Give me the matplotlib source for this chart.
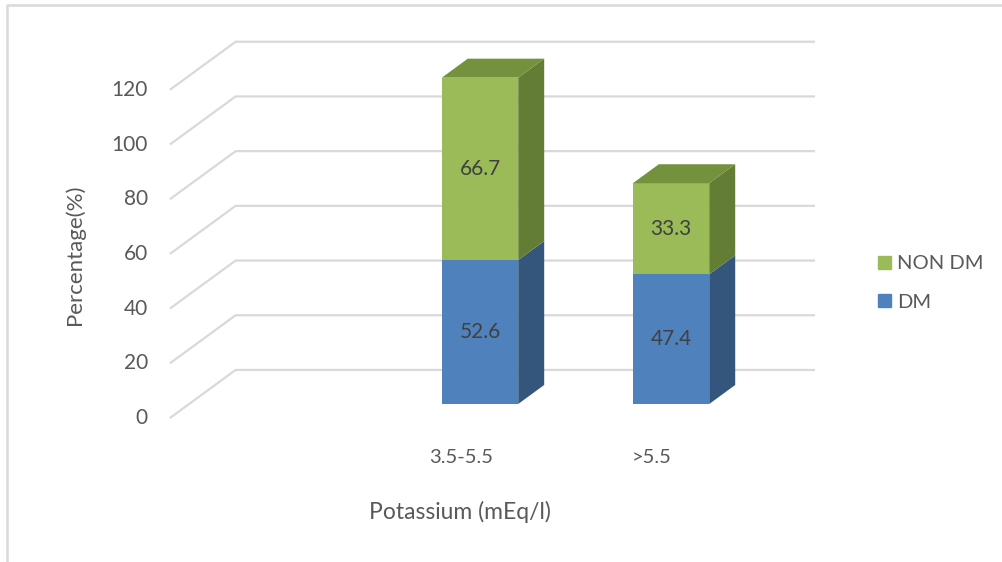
import matplotlib
matplotlib.use('Agg')
import matplotlib.pyplot as plt
from matplotlib.patches import Polygon, Patch
from matplotlib.lines import Line2D

plt.rcParams['font.family'] = ['Lato', 'DejaVu Sans']

categories = ['3.5-5.5', '>5.5']
dm = [52.6, 47.4]
non_dm = [66.7, 33.3]
y_ticks = [0, 20, 40, 60, 80, 100, 120]

blue, blue_side, blue_top = '#4f81bd', '#34557c', '#3e6594'
green, green_side, green_top = '#9bbb59', '#637d35', '#74913d'
grid_col = '#d9d9d9'
text_col = '#595959'

# depth vector of one bar (x in category units, y in data units)
ddx, ddy = 0.136, 6.95
floor_front = -0.74   # front edge of the floor, in bar depths
back_wall = 1.79      # back wall, in bar depths
grid_left = -1.523
grid_right = 1.754
width = 0.4

fig = plt.figure(figsize=(10.03, 5.62), dpi=100)
ax = fig.add_axes([0, 0, 1, 1])
ax.set_xlim(-2.513, 2.738)
ax.set_ylim(-57.77, 147.7)
ax.axis('off')

# perspective gridlines: diagonal on the side wall, horizontal on the back wall
for v in y_ticks:
    xs = [grid_left + floor_front * ddx, grid_left + back_wall * ddx, grid_right]
    ys = [v + floor_front * ddy, v + back_wall * ddy, v + back_wall * ddy]
    ax.plot(xs, ys, color=grid_col, lw=1.6, zorder=1, solid_capstyle='butt')
    ax.text(xs[0] - 0.115, ys[0], str(v), ha='right', va='center',
            fontsize=15, color=text_col)

x = list(range(len(categories)))
bottoms = [0] * len(x)
for vals, front, side, top in [(dm, blue, blue_side, blue_top),
                               (non_dm, green, green_side, green_top)]:
    ax.bar(x, vals, width=width, bottom=bottoms, color=front, zorder=3)
    for i in x:
        b = bottoms[i]
        t = b + vals[i]
        r = i + width / 2
        ax.add_patch(Polygon([(r, b), (r + ddx, b + ddy), (r + ddx, t + ddy), (r, t)],
                             closed=True, facecolor=side, edgecolor='none', zorder=3))
        ax.text(i, b + vals[i] / 2, f'{vals[i]:.1f}', ha='center', va='center',
                fontsize=15, color='#404040', zorder=5)
    bottoms = [bottoms[i] + vals[i] for i in x]

# top faces
for i in x:
    t = bottoms[i]
    l, r = i - width / 2, i + width / 2
    ax.add_patch(Polygon([(l, t), (r, t), (r + ddx, t + ddy), (l + ddx, t + ddy)],
                         closed=True, facecolor=green_top, edgecolor='none', zorder=4))

for i, lab in enumerate(categories):
    ax.text(i + floor_front * ddx, -19.4, lab, ha='center', va='center',
            fontsize=14.5, color=text_col)

fig.text(460 / 1003, 1 - 512 / 562, 'Potassium (mEq/l)', ha='center', va='center',
         fontsize=16.5, color=text_col)
fig.text(75 / 1003, 1 - 255 / 562, 'Percentage(%)', ha='center', va='center',
         rotation=90, fontsize=16, color=text_col)

handles = [Patch(color=green, label='NON DM'), Patch(color=blue, label='DM')]
leg = ax.legend(handles=handles, loc='center left',
                bbox_to_anchor=(878 / 1003, 1 - 283 / 562), bbox_transform=fig.transFigure,
                frameon=False, fontsize=14.5, handlelength=0.65, handleheight=0.65,
                handletextpad=0.3, labelspacing=1.05, borderpad=0, borderaxespad=0)
for t in leg.get_texts():
    t.set_color(text_col)

# outer chart frame (top and left edges)
fig.add_artist(Line2D([7 / 1003, 7 / 1003, 1], [0, 1 - 5 / 562, 1 - 5 / 562],
                      transform=fig.transFigure, color=grid_col, lw=1.8))

fig.savefig('out.png', dpi=100)
